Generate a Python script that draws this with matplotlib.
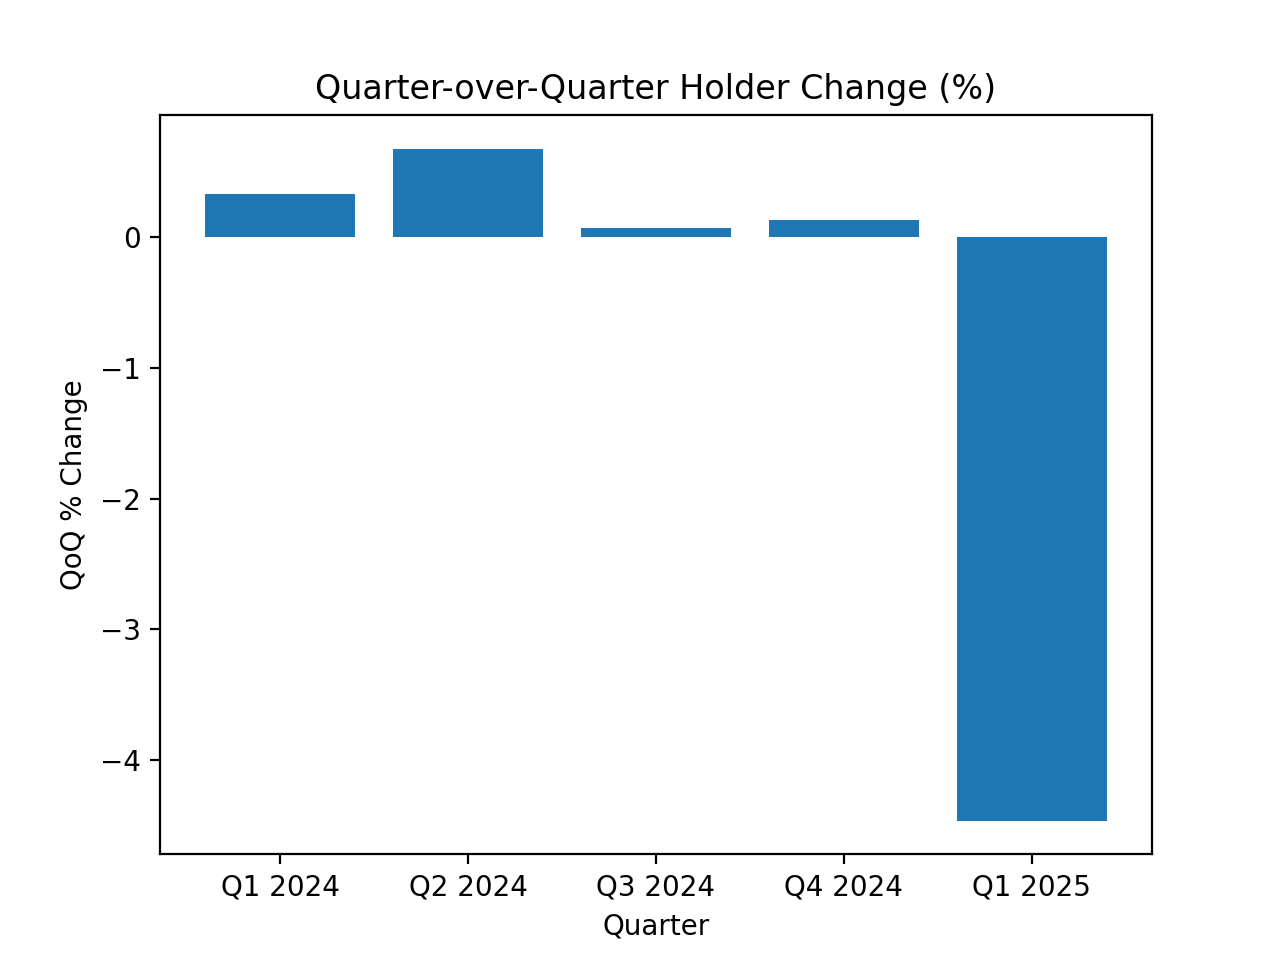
import matplotlib
matplotlib.use("Agg")
import matplotlib.pyplot as plt

quarters = ["Q1 2024", "Q2 2024", "Q3 2024", "Q4 2024", "Q1 2025"]
qoq_change = [0.330, 0.674, 0.066, 0.128, -4.463]

fig, ax = plt.subplots(figsize=(6.4, 4.8), dpi=200)
ax.bar(quarters, qoq_change, color="#1f77b4")
ax.set_title("Quarter-over-Quarter Holder Change (%)")
ax.set_xlabel("Quarter")
ax.set_ylabel("QoQ % Change")

fig.savefig("out.png")
